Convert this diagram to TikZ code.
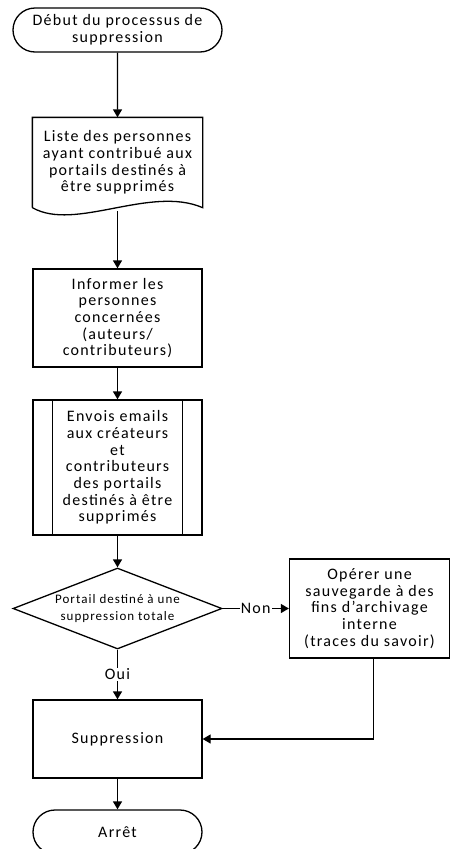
\documentclass[tikz,border=0pt]{standalone}
\usepackage{fontspec}
\setmainfont{Carlito}
\usepackage{tikz}
\usetikzlibrary{shapes}
\usetikzlibrary{shapes.geometric}
\usetikzlibrary{shapes.misc}
\usetikzlibrary{arrows.meta}
\usetikzlibrary{positioning}
\newfontfamily\boxfont[LetterSpace=8]{Carlito}
\tikzstyle{term}=[rounded rectangle,draw=black,align=center,inner sep=0mm,minimum height=44,font=\boxfont\fontsize{16}{16.7}\selectfont]
\tikzstyle{doc}=[rectangle,draw=none,align=center,inner sep=0mm,minimum width=169,minimum height=89,font=\boxfont\fontsize{16}{16.7}\selectfont]
\tikzstyle{action}=[rectangle,draw=black,align=center,inner sep=0mm,font=\boxfont\fontsize{16}{16.7}\selectfont]
\tikzstyle{decision}=[diamond,draw=black,align=center,inner sep=-8pt,aspect=2.58,minimum width=209,minimum height=81,font=\boxfont\fontsize{13}{16.7}\selectfont]
\tikzstyle{lbl}=[fill=white,inner sep=1pt,font=\boxfont\fontsize{16}{16.7}\selectfont]
\tikzstyle{arrow}=[-{Triangle[length=8,width=9]}]
\tikzset{every picture/.style={
    line width=1.3
  }
}
\begin{document}
\begin{tikzpicture}[x=1pt,y=-1pt]
      \useasboundingbox (0,0) rectangle (450,849);
      \node[term,minimum width=209] at (117.5,30) (debut) {Début du processus de\\suppression};
      \node[doc] at (117.5,162.5) (liste) {Liste des personnes\\ayant contribué aux\\portails destinés à\\être supprimés};
      \draw (liste.south west) -- (liste.north west) -- (liste.north east) -- (liste.south east)
        .. controls (150,185) and (75,232) .. (liste.south west);
      \node[action,minimum width=169,minimum height=98] at (117.5,318) (informer) {Informer les\\personnes\\concernées\\(auteurs/\\contributeurs)};
      \node[action,minimum width=169,minimum height=135] at (117.5,467.5) (envois) {Envois emails\\aux créateurs\\et\\contributeurs\\des portails\\destinés à être\\supprimés};
      \draw ([xshift=20]envois.north west) -- ([xshift=20]envois.south west);
      \draw ([xshift=-20]envois.north east) -- ([xshift=-20]envois.south east);
      \node[decision] at (117.5,608.5) (portail) {Portail destiné à une\\suppression totale};
      \node[action,minimum width=160,minimum height=99] at (369.5,608.5) (sauvegarde) {Opérer une\\sauvegarde à des\\fins d’archivage\\interne\\(traces du savoir)};
      \node[action,minimum width=169,minimum height=78] at (117.5,739) (suppr) {Suppression};
      \node[term,minimum width=169] at (117.5,832) (arret) {Arrêt};
      \draw[arrow] (debut) -- (liste.north);
      \draw[arrow] (117.5,211) -- (informer);
      \draw[arrow] (informer) -- (envois);
      \draw[arrow] (envois) -- (portail);
      \draw[arrow] (portail.east) -- node[lbl] {Non} (sauvegarde.west);
      \draw[arrow] (portail.south) -- node[lbl] {Oui} (suppr.north);
      \draw[arrow] ([xshift=4]sauvegarde.south) |- (suppr.east);
      \draw[arrow] (suppr) -- (arret);
    \end{tikzpicture}
\end{document}
